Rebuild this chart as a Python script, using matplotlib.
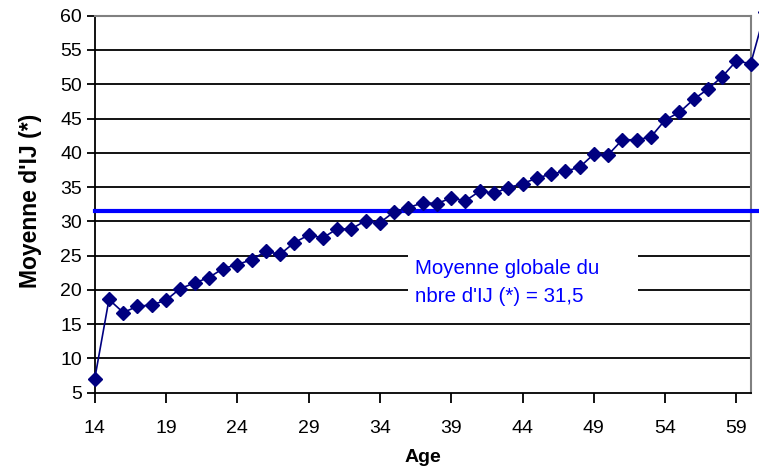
import matplotlib
matplotlib.use("Agg")
import matplotlib.pyplot as plt
from matplotlib.patches import Rectangle

plt.rcParams['font.family'] = ['Liberation Sans', 'DejaVu Sans']

# mean number of IJ per age
ages = list(range(14, 62))
moyenne = [7.0, 18.6, 16.7, 17.6, 17.8, 18.5, 20.2, 21.0, 21.8, 23.1, 23.7, 24.4,
           25.6, 25.2, 26.9, 28.0, 27.6, 28.9, 28.9, 30.1, 29.8, 31.4, 32.0, 32.7,
           32.6, 33.4, 33.0, 34.4, 34.1, 34.9, 35.5, 36.3, 36.9, 37.3, 37.9, 39.8,
           39.7, 41.9, 41.9, 42.3, 44.8, 45.9, 47.8, 49.3, 51.1, 53.4, 53.0, 60.5]
moyenne_globale = 31.5
xtick_ages = list(range(14, 60, 5))
yticks = list(range(5, 61, 5))

fig = plt.figure(figsize=(7.59, 4.70), dpi=100)
ax = fig.add_axes([94.7/759, 1-392.7/470, (750.7-94.7)/759, (392.7-15.7)/470])

for y in yticks[1:-1]:
    ax.axhline(y, color='black', lw=1.3, zorder=1)

ax.plot([ages[0], ages[-1]], [moyenne_globale]*2, color='#0000ff', lw=3,
        clip_on=False, zorder=3)
ax.plot(ages, moyenne, color='#000080', lw=1.2, marker='D', markersize=7,
        markerfacecolor='#000080', markeredgecolor='#000080', clip_on=False, zorder=4)

# white label box hiding the gridlines behind the text
ax.add_patch(Rectangle((0.4776, 0.21), 0.3506, 0.20, transform=ax.transAxes,
                       facecolor='white', edgecolor='none', zorder=2))
ax.text(0.488, 0.293, "Moyenne globale du\nnbre d'IJ (*) = 31,5", transform=ax.transAxes,
        color='#0000ff', fontsize=14.8, ha='left', va='center', linespacing=1.62,
        zorder=2.5)

ax.set_xlim(14, 60)
ax.set_ylim(5, 60)
ax.set_xticks(xtick_ages)
ax.set_yticks(yticks)
ax.tick_params(axis='x', direction='out', length=7, width=1.3, labelsize=14, pad=13)
ax.tick_params(axis='y', direction='out', length=6, width=1.3, labelsize=14, pad=3)

for s in ['left', 'bottom']:
    ax.spines[s].set_color('black')
    ax.spines[s].set_linewidth(1.3)
for s in ['top', 'right']:
    ax.spines[s].set_color('#808080')
    ax.spines[s].set_linewidth(1.5)

ax.set_xlabel("Age", fontsize=14, fontweight='bold', va='center')
ax.set_ylabel("Moyenne d'IJ (*)", fontsize=16.5, fontweight='bold', va='center')
ax.xaxis.set_label_coords(0.5, -0.173)
ax.yaxis.set_label_coords(-0.0986, 0.51)

fig.savefig("out.png", dpi=100)
